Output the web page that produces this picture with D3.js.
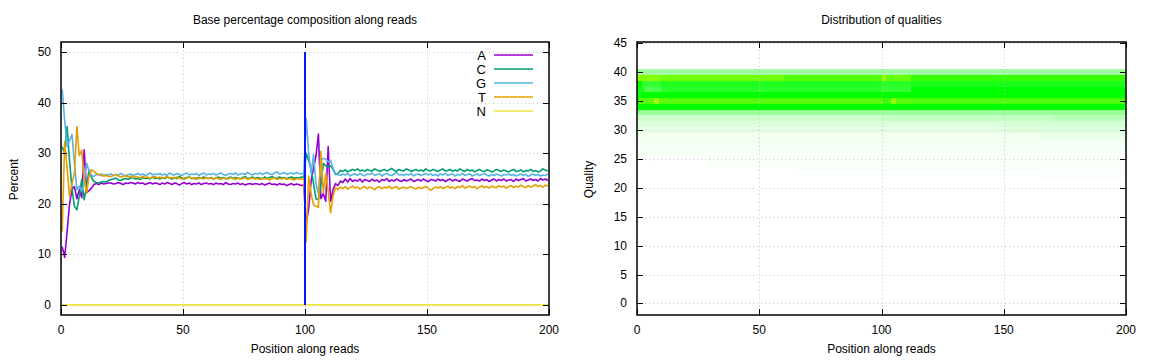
<!DOCTYPE html>
<html>
<head>
<meta charset="utf-8">
<script src="https://cdn.jsdelivr.net/npm/d3@7"></script>
<style>
    body { margin: 0; background: #fff; }
    svg { display: block; font-family: "Liberation Sans", Arial, sans-serif; }
</style>
</head>
<body>
<script>
// base composition along reads, one value per position (percent)
let baseA = [
    11.5, 9.4, 14.5, 20.0, 22.8, 23.4, 21.0, 22.8, 21.2, 30.7, 22.2, 22.6, 23.1, 23.8, 24.0, 23.8, 24.1, 23.9, 24.0, 24.1,
    24.1, 23.9, 24.0, 24.2, 24.0, 23.8, 24.1, 24.0, 24.2, 24.1, 23.9, 24.2, 24.0, 24.1, 23.8, 24.0, 24.2, 23.9, 24.1, 24.0,
    23.8, 24.1, 23.9, 24.2, 24.0, 23.8, 24.1, 24.0, 23.7, 24.0, 24.2, 23.9, 24.1, 23.8, 24.0, 23.9, 24.1, 23.8, 24.0, 24.1,
    23.9, 24.0, 23.8, 24.1, 23.9, 24.0, 23.8, 24.2, 23.9, 23.8, 24.0, 23.9, 24.1, 23.8, 24.0, 23.7, 23.9, 24.0, 23.8, 24.0,
    23.9, 23.8, 24.0, 23.7, 23.9, 24.1, 23.8, 23.9, 23.7, 24.0, 23.8, 23.9, 23.6, 23.8, 24.0, 23.7, 23.9, 23.8, 23.6, 23.7,
    16.0, 19.0, 24.5, 27.0, 29.5, 33.8, 21.0, 22.0, 20.5, 31.3, 20.5, 22.8, 24.0, 23.6, 24.5, 24.2, 24.9, 24.3, 25.0, 24.4,
    24.7, 24.5, 24.9, 24.3, 24.8, 24.6, 24.4, 24.9, 24.5, 24.7, 24.3, 24.8, 24.6, 25.0, 24.4, 24.7, 24.5, 24.9, 24.6, 24.4,
    24.8, 24.5, 24.7, 24.9, 24.4, 24.6, 24.8, 24.5, 24.9, 24.6, 24.4, 24.8, 24.7, 24.5, 24.9, 24.6, 24.8, 24.4, 24.7, 24.9,
    24.5, 24.8, 24.6, 24.4, 24.9, 24.7, 24.5, 24.8, 25.0, 24.6, 24.7, 24.5, 24.9, 24.6, 24.8, 24.4, 24.7, 24.9, 24.5, 24.8,
    24.6, 24.9, 24.5, 24.7, 24.8, 24.4, 24.9, 24.6, 24.8, 25.0, 24.5, 24.7, 24.9, 24.6, 24.8, 24.5, 25.0, 24.7, 24.9, 24.6
];
let baseC = [
    31.3, 30.0, 35.3, 28.5, 23.0, 19.5, 18.8, 21.5, 24.8, 20.8, 23.5, 26.7, 25.2, 24.4, 24.2, 24.1, 24.3, 24.4, 24.3, 24.6,
    24.8, 24.9, 25.1, 24.7, 24.6, 24.9, 25.0, 24.8, 25.1, 25.2, 24.9, 25.0, 24.8, 25.2, 25.0, 25.1, 24.9, 25.3, 25.0, 25.1,
    24.9, 25.2, 25.0, 25.3, 25.1, 24.9, 25.2, 25.0, 25.4, 25.1, 24.9, 25.2, 25.3, 25.0, 25.1, 24.9, 25.2, 25.0, 25.3, 25.1,
    25.0, 25.2, 24.9, 25.1, 25.3, 25.0, 25.2, 24.9, 25.1, 25.3, 25.0, 25.2, 25.1, 24.9, 25.2, 25.4, 25.0, 25.1, 25.3, 25.0,
    25.2, 25.1, 24.9, 25.3, 25.0, 25.2, 25.4, 25.1, 25.0, 25.3, 25.1, 25.2, 24.9, 25.2, 25.3, 25.0, 25.2, 25.1, 25.3, 25.2,
    30.0, 28.5, 27.0, 24.0, 21.0, 20.8, 23.5, 28.0, 27.5, 27.3, 27.5, 26.8, 25.8, 26.0, 26.6, 26.4, 26.7, 26.3, 26.6, 26.8,
    26.6, 26.9, 26.5, 26.7, 26.4, 26.8, 26.6, 26.5, 26.9, 26.7, 26.4, 26.6, 26.8, 26.5, 26.7, 27.0, 26.6, 26.4, 26.8, 26.6,
    26.5, 26.9, 26.7, 26.4, 26.6, 26.8, 26.5, 26.7, 26.4, 26.9, 26.6, 26.5, 26.8, 26.6, 26.4, 26.7, 26.9, 26.5, 26.6, 26.8,
    26.4, 26.7, 26.5, 26.9, 26.6, 26.4, 26.8, 26.5, 26.7, 26.3, 26.6, 26.8, 26.5, 26.4, 26.7, 26.6, 26.3, 26.5, 26.8, 26.6,
    26.4, 26.7, 26.5, 26.3, 26.6, 26.8, 26.4, 26.5, 26.7, 26.3, 26.6, 26.5, 26.8, 26.4, 26.6, 26.3, 26.5, 26.9, 26.7, 26.5
];
let baseG = [
    42.6, 36.5, 31.3, 32.5, 33.7, 28.0, 22.8, 23.5, 22.5, 24.0, 28.0, 26.5, 25.6, 25.4, 25.8, 25.7, 25.9, 25.6, 25.8, 25.7,
    25.9, 25.6, 25.8, 25.7, 26.0, 25.7, 25.5, 25.8, 25.9, 25.6, 25.8, 26.0, 25.7, 25.9, 25.6, 25.8, 26.1, 25.7, 25.9, 25.8,
    26.0, 25.7, 25.9, 25.6, 26.1, 25.8, 25.7, 26.0, 25.8, 25.6, 25.9, 26.1, 25.7, 25.9, 25.8, 26.0, 25.6, 25.9, 26.1, 25.7,
    25.9, 25.8, 26.0, 25.7, 25.9, 26.1, 25.8, 25.6, 25.9, 26.0, 25.8, 26.1, 25.7, 25.9, 26.0, 25.8, 26.2, 25.9, 25.7, 26.0,
    25.9, 26.1, 25.8, 26.0, 26.2, 25.9, 25.8, 26.1, 26.3, 25.9, 26.0, 26.2, 25.8, 26.0, 26.1, 25.9, 26.2, 26.0, 25.9, 26.1,
    36.8, 30.0, 26.0, 29.7, 24.0, 22.0, 28.5, 29.0, 28.8, 28.3, 28.6, 27.0, 26.0, 25.8, 25.6, 25.9, 25.7, 26.0, 25.5, 25.8,
    25.9, 25.6, 26.0, 25.7, 25.5, 25.9, 25.8, 26.1, 25.6, 25.8, 25.9, 25.5, 25.8, 26.0, 25.7, 25.6, 25.9, 26.2, 25.7, 25.8,
    25.6, 25.9, 25.7, 26.0, 25.5, 25.8, 25.9, 25.6, 25.8, 26.0, 25.7, 25.9, 25.6, 25.8, 25.5, 25.9, 25.7, 26.0, 25.6, 25.8,
    25.9, 25.5, 25.8, 25.7, 26.0, 25.6, 25.8, 25.9, 25.5, 25.7, 25.9, 25.6, 25.8, 26.0, 25.7, 25.5, 25.8, 25.6, 25.9, 25.7,
    25.5, 25.8, 25.7, 25.9, 25.6, 25.8, 25.5, 25.7, 25.9, 25.6, 25.8, 25.4, 25.7, 25.9, 25.6, 25.8, 25.5, 25.7, 25.6, 25.9
];
let baseT = [
    14.5, 32.3, 27.0, 21.5, 24.0, 26.0, 35.3, 29.5, 30.6, 25.0, 22.1, 25.5, 26.7, 26.4, 26.0, 25.8, 25.6, 25.5, 25.6, 25.4,
    25.4, 25.6, 25.8, 25.5, 25.3, 25.4, 25.6, 25.3, 25.5, 25.2, 25.4, 25.3, 25.1, 25.4, 25.2, 25.3, 25.0, 25.2, 25.4, 25.1,
    25.3, 25.0, 25.2, 25.4, 25.1, 25.2, 25.0, 25.3, 25.1, 24.9, 25.2, 25.0, 25.3, 25.1, 24.9, 25.2, 25.0, 25.1, 24.9, 25.2,
    25.0, 25.1, 24.9, 25.2, 25.0, 24.8, 25.1, 25.0, 24.9, 25.2, 25.0, 24.8, 25.1, 24.9, 25.0, 25.2, 24.8, 25.0, 25.1, 24.9,
    25.0, 24.8, 25.1, 24.9, 25.0, 24.7, 25.0, 25.1, 24.8, 25.0, 24.9, 25.1, 24.8, 25.0, 24.9, 24.7, 25.0, 24.9, 24.8, 25.0,
    12.5, 25.5, 22.0, 19.8, 19.5, 19.3, 30.4, 22.2, 26.0, 22.5, 18.2, 21.5, 23.2, 22.8, 23.3, 23.0, 23.4, 22.9, 23.2, 23.5,
    23.1, 23.3, 22.9, 23.2, 23.4, 23.0, 23.3, 23.1, 22.8, 23.2, 23.4, 23.0, 23.3, 23.1, 23.5, 23.0, 23.2, 23.4, 22.9, 23.1,
    23.3, 23.0, 23.2, 23.4, 23.1, 22.9, 23.3, 23.0, 23.2, 23.4, 23.1, 22.7, 23.0, 23.3, 23.1, 23.4, 23.0, 23.2, 23.5, 23.1,
    23.3, 23.0, 23.4, 23.2, 23.6, 23.1, 23.3, 23.5, 23.2, 23.4, 23.0, 23.3, 23.6, 23.2, 23.4, 23.1, 23.5, 23.3, 23.2, 23.6,
    23.3, 23.5, 23.1, 23.4, 23.6, 23.2, 23.5, 23.3, 23.7, 23.4, 23.2, 23.6, 23.3, 23.5, 23.8, 23.4, 23.6, 23.3, 23.7, 23.5
];
let baseN = [
    0,0,0,0,0,0,0,0,0,0,0,0,0,0,0,0,0,0,0,0, 0,0,0,0,0,0,0,0,0,0,0,0,0,0,0,0,0,0,0,0,
    0,0,0,0,0,0,0,0,0,0,0,0,0,0,0,0,0,0,0,0, 0,0,0,0,0,0,0,0,0,0,0,0,0,0,0,0,0,0,0,0,
    0,0,0,0,0,0,0,0,0,0,0,0,0,0,0,0,0,0,0,0, 0,0,0,0,0,0,0,0,0,0,0,0,0,0,0,0,0,0,0,0,
    0,0,0,0,0,0,0,0,0,0,0,0,0,0,0,0,0,0,0,0, 0,0,0,0,0,0,0,0,0,0,0,0,0,0,0,0,0,0,0,0,
    0,0,0,0,0,0,0,0,0,0,0,0,0,0,0,0,0,0,0,0, 0,0,0,0,0,0,0,0,0,0,0,0,0,0,0,0,0,0,0,0
];
let baseNames = ["A", "C", "G", "T", "N"];
let baseColors = ["#9400d3", "#009e73", "#56b4e9", "#e69f00", "#f0e442"];
let markerPos = 100;

let xTicks = [0, 50, 100, 150, 200];
let pctTicks = [0, 10, 20, 30, 40, 50];
let qualTicks = [0, 5, 10, 15, 20, 25, 30, 35, 40, 45];

// quality heatmap: per quality row, runs of [from, to, density]
let qualRows = [40, 39, 38, 37, 36, 35, 34, 33, 32, 31, 30, 29, 28, 27, 26, 25, 24, 23, 22];
let qualRuns = [
    [[0, 200, 0.19]],
    [[0, 1, 0.85], [1, 10, 0.76], [10, 60, 0.72], [60, 100, 0.66], [100, 102, 0.8], [102, 112, 0.7], [112, 200, 0.6]],
    [[0, 2, 0.5], [2, 10, 0.4], [10, 100, 0.44], [100, 112, 0.42], [112, 200, 0.45]],
    [[0, 3, 0.45], [3, 10, 0.35], [10, 100, 0.42], [100, 112, 0.4], [112, 200, 0.5]],
    [[0, 2, 0.46], [2, 200, 0.5]],
    [[0, 1, 0.5], [1, 7, 0.66], [7, 9, 0.8], [9, 100, 0.66], [100, 104, 0.6], [104, 106, 0.78], [106, 112, 0.66], [112, 200, 0.64]],
    [[0, 200, 0.5]],
    [[0, 200, 0.2]],
    [[0, 100, 0.1], [100, 170, 0.12], [170, 200, 0.14]],
    [[0, 150, 0.065], [150, 200, 0.08]],
    [[0, 150, 0.05], [150, 200, 0.065]],
    [[0, 165, 0.03], [165, 200, 0.045]],
    [[0, 200, 0.025]],
    [[0, 200, 0.02]],
    [[0, 200, 0.015]],
    [[29, 200, 0.012]],
    [[5, 7, 0.01], [29, 200, 0.01]],
    [[64, 200, 0.008]],
    [[165, 200, 0.008]]
];

let w = 1152;
let h = 360;
let plotTop = 42, plotBottom = 315;

let svg = d3.select("body")
    .append("svg")
    .attr("width", w)
    .attr("height", h);

// frame, grid, ticks and labels shared by both panels
function drawAxes(g, x, y, yTicks, title, yLabel, yLabelX, gridFront) {
    let left = x.range()[0], right = x.range()[1];
    let grid = g.append("g")
        .attr("stroke", "#c4c4c4")
        .attr("stroke-width", 1)
        .attr("stroke-dasharray", "1,3");
    xTicks.forEach(function (t) {
        grid.append("line")
            .attr("x1", Math.round(x(t)) + 0.5).attr("x2", Math.round(x(t)) + 0.5)
            .attr("y1", plotTop).attr("y2", plotBottom);
    });
    yTicks.forEach(function (t) {
        grid.append("line")
            .attr("x1", left).attr("x2", right)
            .attr("y1", Math.round(y(t)) + 0.5).attr("y2", Math.round(y(t)) + 0.5);
    });
    if (!gridFront) grid.lower();

    let ax = g.append("g").attr("stroke", "#000").attr("stroke-width", 1);
    xTicks.forEach(function (t) {
        let px = Math.round(x(t)) + 0.5;
        ax.append("line").attr("x1", px).attr("x2", px).attr("y1", plotBottom).attr("y2", plotBottom - 6);
        ax.append("line").attr("x1", px).attr("x2", px).attr("y1", plotTop).attr("y2", plotTop + 6);
        g.append("text")
            .attr("x", x(t)).attr("y", plotBottom + 19)
            .attr("text-anchor", "middle")
            .attr("font-size", "12px")
            .text(t);
    });
    yTicks.forEach(function (t) {
        let py = Math.round(y(t)) + 0.5;
        ax.append("line").attr("x1", left).attr("x2", left + 6).attr("y1", py).attr("y2", py);
        ax.append("line").attr("x1", right).attr("x2", right - 6).attr("y1", py).attr("y2", py);
        g.append("text")
            .attr("x", left - 10).attr("y", y(t) + 4)
            .attr("text-anchor", "end")
            .attr("font-size", "12px")
            .text(t);
    });

    g.append("rect")
        .attr("x", left).attr("y", plotTop)
        .attr("width", right - left).attr("height", plotBottom - plotTop)
        .attr("fill", "none")
        .attr("stroke", "#000")
        .attr("stroke-width", 1.5);

    g.append("text")
        .attr("x", (left + right) / 2).attr("y", 24)
        .attr("text-anchor", "middle")
        .attr("font-size", "12px")
        .text(title);
    g.append("text")
        .attr("x", (left + right) / 2).attr("y", 353)
        .attr("text-anchor", "middle")
        .attr("font-size", "12px")
        .text("Position along reads");
    g.append("text")
        .attr("transform", "translate(" + yLabelX + "," + ((plotTop + plotBottom) / 2 + 1) + ") rotate(-90)")
        .attr("text-anchor", "middle")
        .attr("font-size", "12px")
        .text(yLabel);
}

// left panel: base composition
let x1 = d3.scaleLinear().domain([0, 200]).range([61, 549]);
let y1 = d3.scaleLinear().domain([-2, 52]).range([plotBottom, plotTop]);
let g1 = svg.append("g");

let series = [baseA, baseC, baseG, baseT, baseN];
let line = d3.line()
    .x(function (d, i) { return x1(i + 0.5); })
    .y(function (d) { return y1(d); });

let plot1 = g1.append("g");
series.forEach(function (s, k) {
    plot1.append("path")
        .datum(s)
        .attr("d", line)
        .attr("fill", "none")
        .attr("stroke", baseColors[k])
        .attr("stroke-width", 1.6)
        .attr("stroke-linejoin", "round");
});

plot1.append("line")
    .attr("x1", x1(markerPos)).attr("x2", x1(markerPos))
    .attr("y1", y1(0)).attr("y2", y1(50))
    .attr("stroke", "#0a14ff")
    .attr("stroke-width", 2);

drawAxes(g1, x1, y1, pctTicks, "Base percentage composition along reads", "Percent", 18, false);

// legend
let legend = g1.append("g");
baseNames.forEach(function (n, k) {
    let ly = 55 + k * 14;
    legend.append("text")
        .attr("x", 486).attr("y", ly + 4.5)
        .attr("text-anchor", "end")
        .attr("font-size", "13px")
        .attr("fill", "#000")
        .text(n);
    legend.append("line")
        .attr("x1", 494).attr("x2", 533)
        .attr("y1", ly).attr("y2", ly)
        .attr("stroke", baseColors[k])
        .attr("stroke-width", 1.6);
});

// right panel: quality heatmap
let x2 = d3.scaleLinear().domain([0, 200]).range([637, 1126]);
let y2 = d3.scaleLinear().domain([-2, 45.2]).range([plotBottom, plotTop]);
let color = d3.scaleLinear()
    .domain([0, 0.5, 1])
    .range(["#ffffff", "#00ff00", "#ffff00"]);
let g2 = svg.append("g");

let cells = g2.append("g").attr("shape-rendering", "crispEdges");
qualRows.forEach(function (q, r) {
    qualRuns[r].forEach(function (run) {
        cells.append("rect")
            .attr("x", x2(run[0]))
            .attr("width", x2(run[1]) - x2(run[0]))
            .attr("y", y2(q + 0.5))
            .attr("height", y2(q - 0.5) - y2(q + 0.5))
            .attr("fill", color(run[2]));
    });
});

drawAxes(g2, x2, y2, qualTicks, "Distribution of qualities", "Quality", 593, true);
</script>
</body>
</html>
